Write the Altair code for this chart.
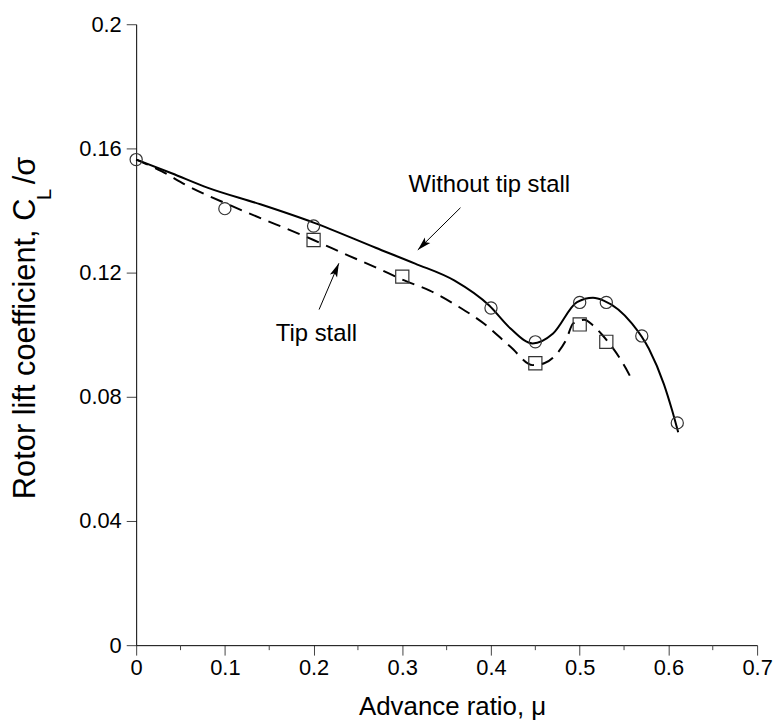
import altair as alt
import pandas as pd

# ---- data ----
circle_mu = [0.0, 0.1, 0.2, 0.4, 0.45, 0.5, 0.53, 0.57, 0.61]
circle_cl = [0.1564, 0.1406, 0.135, 0.1086, 0.0977, 0.1104, 0.1104, 0.0996, 0.0716]

square_mu = [0.2, 0.3, 0.45, 0.5, 0.53]
square_cl = [0.1305, 0.1187, 0.0908, 0.1033, 0.0977]

solid_mu = [0.0, 0.04, 0.081, 0.14, 0.2, 0.27, 0.3145, 0.359, 0.398, 0.422, 0.447,
            0.47, 0.497, 0.515, 0.527, 0.559, 0.578, 0.595, 0.604, 0.611]
solid_cl = [0.1564, 0.1520, 0.1473, 0.1420, 0.1361, 0.1280, 0.1229, 0.1174, 0.1094, 0.1020, 0.0972,
            0.1004, 0.1105, 0.1119, 0.1110, 0.1036, 0.0955, 0.0840, 0.0758, 0.0686]

dash_mu = [0.0, 0.029, 0.055, 0.114, 0.2, 0.24, 0.27, 0.303, 0.331, 0.363, 0.392, 0.422,
           0.447, 0.46, 0.476, 0.485, 0.4925, 0.505, 0.515, 0.524, 0.535, 0.552, 0.557]
dash_cl = [0.1564, 0.1526, 0.1484, 0.1407, 0.1305, 0.1254, 0.1217, 0.1174, 0.1142, 0.1091, 0.1036, 0.0961,
           0.0902, 0.0908, 0.0945, 0.0985, 0.1036, 0.1048, 0.1030, 0.1004, 0.0966, 0.0892, 0.0865]

x_ticks = [0.0, 0.1, 0.2, 0.3, 0.4, 0.5, 0.6, 0.7]
x_minor = [0.05, 0.15, 0.25, 0.35, 0.45, 0.55, 0.65]
y_ticks = [0.0, 0.04, 0.08, 0.12, 0.16, 0.2]

labels = ["Without tip stall", "Tip stall"]
label_mu = [0.398, 0.2032]
label_cl = [0.1460, 0.0979]
arrow_mu0 = [0.3656, 0.2062]
arrow_cl0 = [0.1409, 0.1081]
arrow_mu1 = [0.3175, 0.2285]
arrow_cl1 = [0.1273, 0.1230]
arrow_angle = [225, 23]

FONT = "Liberation Sans"
W, H = 625, 625

xs = alt.Scale(domain=[0, 0.7], nice=False, zero=False)
ys = alt.Scale(domain=[0, 0.2], nice=False, zero=False)

x_axis = alt.Axis(values=x_ticks, format=".1~f", tickSize=10, tickColor="#444", domainColor="black",
                  labelFontSize=22, labelFont=FONT, labelColor="black", labelPadding=3,
                  labelFlush=False, labelOverlap=False, grid=False,
                  title="Advance ratio, μ", titleFont=FONT, titleFontSize=26, titleFontWeight="normal",
                  titleColor="black", titleBaseline="alphabetic", titleY=70, titleX=318)
y_axis = alt.Axis(values=y_ticks, format=".2~f", tickSize=10, tickColor="#444", domainColor="black",
                  labelFontSize=22, labelFont=FONT, labelColor="black", labelPadding=5,
                  labelOverlap=False, grid=False, title=None)

solid_df = pd.DataFrame({"mu": solid_mu, "cl": solid_cl})
dash_df = pd.DataFrame({"mu": dash_mu, "cl": dash_cl})
circ_df = pd.DataFrame({"mu": circle_mu, "cl": circle_cl})
sq_df = pd.DataFrame({"mu": square_mu, "cl": square_cl})
minor_df = pd.DataFrame({"mu": x_minor})
lab_df = pd.DataFrame({"text": labels, "mu": label_mu, "cl": label_cl})
arr_df = pd.DataFrame({"mu0": arrow_mu0, "cl0": arrow_cl0, "mu1": arrow_mu1, "cl1": arrow_cl1,
                       "ang": arrow_angle})

solid = alt.Chart(solid_df).mark_line(color="black", strokeWidth=2, interpolate="monotone").encode(
    x=alt.X("mu:Q", scale=xs, axis=x_axis),
    y=alt.Y("cl:Q", scale=ys, axis=y_axis),
)
dashed = alt.Chart(dash_df).mark_line(color="black", strokeWidth=2, strokeDash=[13, 8],
                                      interpolate="monotone").encode(
    x=alt.X("mu:Q", scale=xs), y=alt.Y("cl:Q", scale=ys))
circles = alt.Chart(circ_df).mark_point(shape="circle", size=150, filled=False, color="#333",
                                        strokeWidth=1.2, opacity=1).encode(
    x=alt.X("mu:Q", scale=xs), y=alt.Y("cl:Q", scale=ys))
squares = alt.Chart(sq_df).mark_point(shape="square", size=175, filled=False, color="#333",
                                      strokeWidth=1.2, opacity=1).encode(
    x=alt.X("mu:Q", scale=xs), y=alt.Y("cl:Q", scale=ys))
minor = alt.Chart(minor_df).mark_rule(color="#444", strokeWidth=1).encode(
    x=alt.X("mu:Q", scale=xs), y=alt.value(H), y2=alt.value(H + 5))
texts = alt.Chart(lab_df).mark_text(font=FONT, fontSize=24, color="black", align="center",
                                    baseline="alphabetic").encode(
    x=alt.X("mu:Q", scale=xs), y=alt.Y("cl:Q", scale=ys), text="text:N")
shafts = alt.Chart(arr_df).mark_rule(color="black", strokeWidth=1).encode(
    x=alt.X("mu0:Q", scale=xs), y=alt.Y("cl0:Q", scale=ys), x2="mu1:Q", y2="cl1:Q")
heads = alt.Chart(arr_df).mark_point(shape="M0,0 L-0.45,1.6 L0,1.25 L0.45,1.6 Z", size=300,
                                     filled=True, color="black", opacity=1).encode(
    x=alt.X("mu1:Q", scale=xs), y=alt.Y("cl1:Q", scale=ys), angle=alt.Angle("ang:Q", scale=None))

ytitle_df = pd.DataFrame({"t": ["Rotor lift coefficient, C", "L", "/σ"],
                          "px": [-102, -86, -102], "py": [478, 177, 161], "fs": [31, 20, 31]})
ytitle = alt.Chart(ytitle_df).mark_text(font=FONT, color="black", angle=270, align="left",
                                        baseline="alphabetic").encode(
    x=alt.X("px:Q", scale=None), y=alt.Y("py:Q", scale=None), text="t:N",
    size=alt.Size("fs:Q", scale=None))

chart = alt.layer(minor, dashed, solid, circles, squares, shafts, heads, texts, ytitle).properties(
    width=W, height=H, autosize="none",
    padding={"left": 129, "top": 14, "right": 17, "bottom": 76},
).configure_view(stroke=None)

chart.save("out.html", embed_options={"renderer": "svg", "actions": False})
